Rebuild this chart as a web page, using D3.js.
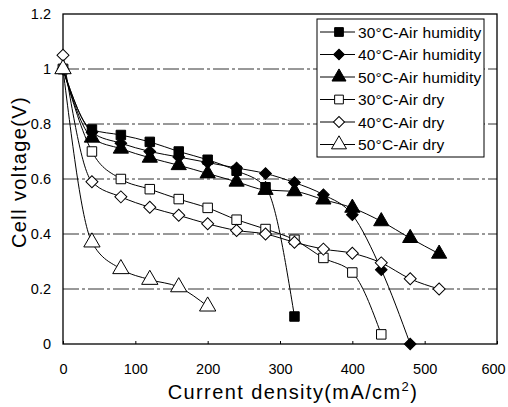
<!DOCTYPE html>
<html>
<head>
<meta charset="utf-8">
<style>
  body { margin: 0; background: #fff; }
  svg text { font-family: "Liberation Sans", Arial, sans-serif; fill: #000; }
</style>
</head>
<body>
<svg width="508" height="407"></svg>
<script src="https://d3js.org/d3.v7.min.js"></script>
<script>

// current density (mA/cm2) for each series
var currents = [0, 40, 80, 120, 160, 200, 240, 280, 320, 360, 400, 440, 480, 520];

var seriesNames = ["30°C-Air humidity", "40°C-Air humidity", "50°C-Air humidity",
                   "30°C-Air dry", "40°C-Air dry", "50°C-Air dry"];

// cell voltage (V)
var hum30 = [1.0, 0.78, 0.76, 0.735, 0.70, 0.67, 0.63, 0.57, 0.10];
var hum40 = [1.0, 0.77, 0.73, 0.70, 0.68, 0.66, 0.64, 0.62, 0.587, 0.543, 0.47, 0.27, 0.0];
var hum50 = [1.0, 0.75, 0.71, 0.677, 0.65, 0.62, 0.59, 0.56, 0.555, 0.525, 0.495, 0.446, 0.385, 0.328];
var dry30 = [1.0, 0.70, 0.60, 0.563, 0.527, 0.495, 0.452, 0.418, 0.379, 0.313, 0.26, 0.035];
var dry40 = [1.05, 0.59, 0.535, 0.497, 0.468, 0.437, 0.413, 0.40, 0.37, 0.345, 0.33, 0.295, 0.237, 0.20];
var dry50 = [1.0, 0.37, 0.273, 0.234, 0.207, 0.137];

var xTicks = [0, 100, 200, 300, 400, 500, 600];
var yTicks = [0, 0.2, 0.4, 0.6, 0.8, 1, 1.2];

var allSeries = [hum30, hum40, hum50, dry30, dry40, dry50];
// diamonds are squares turned 45 degrees
var shapes = [d3.symbolSquare, d3.symbolSquare, d3.symbolTriangle,
              d3.symbolSquare, d3.symbolSquare, d3.symbolTriangle];
var turns = [0, 45, 0, 0, 45, 0];
var filled = [true, true, true, false, false, false];
var sizes = [90, 68, 100, 90, 72, 115];

var svg = d3.select("svg");
var plotL = 63, plotR = 497, plotT = 14, plotB = 344;

var x = d3.scaleLinear().domain([0, 600]).range([plotL, plotR]);
var y = d3.scaleLinear().domain([0, 1.2]).range([plotB, plotT]);

// gridlines
svg.append("g")
  .selectAll("line")
  .data(yTicks.filter(function(d) { return d > 0 && d < 1.2; }))
  .enter().append("line")
    .attr("x1", plotL).attr("x2", plotR)
    .attr("y1", function(d) { return y(d); })
    .attr("y2", function(d) { return y(d); })
    .attr("stroke", "#333")
    .attr("stroke-width", 1)
    .attr("stroke-dasharray", "16,3,3,3");

// frame
svg.append("rect")
    .attr("x", plotL).attr("y", plotT)
    .attr("width", plotR - plotL).attr("height", plotB - plotT)
    .attr("fill", "none").attr("stroke", "#000").attr("stroke-width", 1.3);

// x axis
var xAxis = svg.append("g")
    .attr("transform", "translate(0," + plotB + ")")
    .call(d3.axisBottom(x).tickValues(xTicks).tickSizeInner(-3).tickSizeOuter(0).tickPadding(20));
xAxis.select(".domain").remove();
xAxis.selectAll("line").attr("stroke", "#000");
xAxis.selectAll("text").attr("font-size", 14.5).attr("fill", "#000")
    .attr("dx", function(d) { return d === 600 ? -4 : 0; });

// y axis
var yAxis = svg.append("g")
    .attr("transform", "translate(" + plotL + ",0)")
    .call(d3.axisLeft(y).tickValues(yTicks).tickFormat(d3.format("")).tickSize(0).tickPadding(12));
yAxis.select(".domain").remove();
yAxis.selectAll("text").attr("font-size", 14.5).attr("fill", "#000");

// lines and markers
var line = d3.line()
    .x(function(d) { return x(d[0]); })
    .y(function(d) { return y(d[1]); })
    .curve(d3.curveMonotoneX);

allSeries.forEach(function(vals, i) {
  var pts = vals.map(function(v, k) { return [currents[k], v]; });
  svg.append("path")
      .datum(pts)
      .attr("d", line)
      .attr("fill", "none")
      .attr("stroke", "#000")
      .attr("stroke-width", 1);
  svg.append("g").selectAll("path")
    .data(pts)
    .enter().append("path")
      .attr("transform", function(d) {
        return "translate(" + x(d[0]) + "," + y(d[1]) + ") rotate(" + turns[i] + ")";
      })
      .attr("d", d3.symbol().type(shapes[i]).size(sizes[i]))
      .attr("fill", filled[i] ? "#000" : "#fff")
      .attr("stroke", "#000")
      .attr("stroke-width", 1);
});

// legend
var lg = svg.append("g").attr("transform", "translate(317,19)");
lg.append("rect")
    .attr("width", 167).attr("height", 138)
    .attr("fill", "#fff").attr("stroke", "#000").attr("stroke-width", 1);
seriesNames.forEach(function(name, i) {
  var cy = 13 + i * 22.5;
  lg.append("line")
      .attr("x1", 3).attr("x2", 38).attr("y1", cy).attr("y2", cy)
      .attr("stroke", "#000").attr("stroke-width", 1);
  lg.append("path")
      .attr("transform", "translate(22," + cy + ") rotate(" + turns[i] + ")")
      .attr("d", d3.symbol().type(shapes[i]).size(sizes[i] * 0.85))
      .attr("fill", filled[i] ? "#000" : "#fff")
      .attr("stroke", "#000");
  lg.append("text")
      .attr("x", 41).attr("y", cy + 5.5)
      .attr("font-size", 15.5)
      .attr("letter-spacing", 0.15)
      .text(name);
});

// axis titles
svg.append("text")
    .attr("x", 293).attr("y", 399)
    .attr("text-anchor", "middle")
    .attr("font-size", 20)
    .attr("letter-spacing", 1.4)
    .html("Current density(mA/cm<tspan dy='-8' font-size='13'>2</tspan><tspan dy='8'>)</tspan>");

svg.append("text")
    .attr("transform", "translate(26,172) rotate(-90)")
    .attr("text-anchor", "middle")
    .attr("font-size", 20)
    .attr("letter-spacing", 1.4)
    .text("Cell voltage(V)");

</script>
</body>
</html>
